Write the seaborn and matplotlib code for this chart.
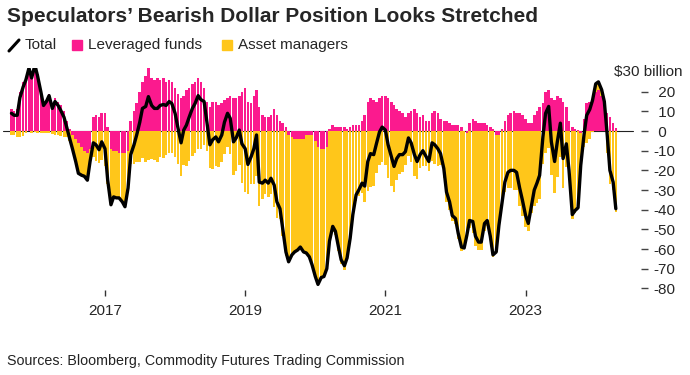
import numpy as np
import pandas as pd
import matplotlib
matplotlib.use("Agg")
import matplotlib.pyplot as plt
import seaborn as sns
from matplotlib.lines import Line2D
from matplotlib.patches import Rectangle

# semi-monthly snapshots of CFTC dollar positioning, $ billion
dates = pd.date_range("2015-09-01", periods=208, freq="SMS")

leveraged = [
    11, 10, 11, 20, 25, 27, 32, 28, 34, 29,
    21, 14, 16, 19, 13, 17, 15, 13, 10, 5,
    1, -2, -4, -6, -8, -10, -11, -9, 7, 8,
    7, 9, 9, 2, -9, -10, -10, -11, -11, -11,
    -10, 5, 10, 14, 20, 25, 28, 32, 27, 26,
    27, 26, 27, 25, 26, 25, 22, 19, 17, 18,
    21, 22, 24, 25, 27, 25, 22, 15, 12, 15,
    15, 13, 14, 16, 17, 18, 17, 17, 18, 20,
    22, 15, 14, 18, 21, 12, 8, 7, 7, 8,
    11, 8, 5, 4, 2, -2, -3, -4, -4, -4,
    -4, -2, -2, -2, -5, -8, -9, -9, -8, 1,
    3, 2, 2, 2, 2, 1, 2, 3, 3, 3,
    5, 8, 15, 17, 16, 15, 17, 18, 18, 17,
    15, 13, 11, 10, 9, 7, 9, 10, 11, 9,
    7, 8, 5, 5, 9, 10, 9, 6, 5, 5,
    4, 3, 3, 3, 2, 0, -1, 4, 6, 5,
    4, 4, 4, 3, 2, 1, -2, -2, 1, 5,
    8, 9, 10, 9, 9, 8, 6, 4, 4, 8,
    10, 12, 14, 20, 21, 17, 16, 18, 17, 15,
    12, 5, 2, 1, 0.5, -1, 6, 14, 15, 16,
    20, 21, 18, 14, 9, 7, 4, 1.5,
]

asset_mgrs = [
    -2, -2, -3, -3, -2.5, -1, 0, -1, -0.5, -1,
    -1, -1, -1, -1, -1.5, -2, -2, -2.5, -3, -3,
    -5, -7, -11.5, -15.5, -14.5, -13, -14, -6.5, -13, -15,
    -16.5, -14.5, -18, -27, -28.5, -23.5, -24, -23, -25, -27.5,
    -19, -17, -17, -16, -15.5, -13.5, -15.5, -14.5, -14, -14.5,
    -15.5, -13, -13.5, -12, -11, -11, -13, -17, -23, -17.5,
    -18, -15, -12.5, -11, -9, -9, -7, -10, -19, -19.5,
    -18, -18.5, -16, -11.5, -8, -11.5, -22.5, -20.5, -17.5, -26.5,
    -31, -32, -27, -27, -23, -38, -34.5, -32, -33.5, -32,
    -38.5, -44, -44.5, -53.5, -63.5, -64.5, -60, -57.5, -56.5, -55,
    -57.5, -60, -62, -66, -69, -70, -65.5, -65, -62, -57,
    -51.5, -53, -61, -67.5, -70.5, -65.5, -56.5, -45.5, -35.5, -33,
    -31.5, -36, -30.5, -28.5, -28, -21.5, -17.5, -16, -17.5, -24,
    -28, -31, -25, -22, -21, -17.5, -12.5, -16, -23, -24.5,
    -19, -18, -18, -20.5, -15, -17, -18, -17.5, -24, -36,
    -40, -46, -47.5, -55, -61, -59.5, -52, -49.5, -52, -58.5,
    -60.5, -60.5, -51, -48.5, -55.5, -64, -59.5, -46, -37, -31,
    -29, -29, -30, -30, -38, -43, -49, -51, -41.5, -38,
    -36.5, -34.5, -17, -11, -8.5, -22.5, -31.5, -23.5, -13, -29,
    -18.5, -25, -44.5, -41.5, -39.5, -16.5, -8, -6, -4, -0.5,
    4, 4, 3, 1, -11, -27, -30, -41,
]

year_ticks = [2017, 2019, 2021, 2023]
y_ticks = list(range(-80, 30, 10))

PINK = "#fb1a8e"
YELLOW = "#ffc61a"

W, H = 690, 375


def fx(px):
    return px / W


def fy(py):
    return 1 - py / H


sns.set_theme(style="white")
plt.rcParams["font.family"] = ["Liberation Sans", "DejaVu Sans"]
plt.rcParams["axes.unicode_minus"] = False

df = pd.DataFrame({"date": dates, "lev": leveraged, "am": asset_mgrs})
days = np.where(df["date"].dt.is_leap_year, 366, 365)
df["x"] = df["date"].dt.year + (df["date"].dt.dayofyear - 1) / days
df["total"] = df["lev"] + df["am"]
# yellow drawn underneath: stacked extent when both sides share a sign
same = np.sign(df["lev"]) == np.sign(df["am"])
df["yellow"] = np.where(same, df["total"], df["am"])

fig = plt.figure(figsize=(W / 100, H / 100), dpi=100)
ax = fig.add_axes([fx(3), fy(290.3), fx(638), 222.2 / H])

ax.axhline(0, xmin=0, xmax=630 / 638, color="#222222", lw=0.8, zorder=0.5)
sns.barplot(data=df, x="x", y="yellow", native_scale=True, orient="x",
            color=YELLOW, saturation=1, width=0.95, linewidth=0,
            errorbar=None, ax=ax, zorder=1)
sns.barplot(data=df, x="x", y="lev", native_scale=True, orient="x",
            color=PINK, saturation=1, width=0.95, linewidth=0,
            errorbar=None, ax=ax, zorder=2)
sns.lineplot(data=df, x="x", y="total", color="black", lw=2.4,
             estimator=None, ax=ax, zorder=3)

ax.set_xlim(2015.545, 2024.646)
ax.set_ylim(-81, 32)
ax.set_xticks(year_ticks)
ax.set_xticklabels([str(y) for y in year_ticks])
ax.yaxis.tick_right()
ax.set_yticks(y_ticks)
ax.set_yticklabels([str(v) if v < 0 else " " + str(v) for v in y_ticks])
ax.set_xlabel("")
ax.set_ylabel("")
for s in ax.spines.values():
    s.set_visible(False)
ax.tick_params(axis="x", length=4, width=1, color="#333333", pad=6,
               labelsize=11, bottom=True)
ax.tick_params(axis="y", length=5, width=1, color="#444444", pad=4,
               labelsize=11, right=True, left=False)

fig.text(fx(682), fy(72), r"\$30 billion", ha="right", va="center", fontsize=11)

# title + legend row
fig.text(fx(7), fy(17), "Speculators’ Bearish Dollar Position Looks Stretched",
         fontsize=15, fontweight="bold", va="center")
fig.add_artist(Line2D([fx(9), fx(19)], [fy(51), fy(40)], color="black", lw=2.2,
                      transform=fig.transFigure))
fig.text(fx(25), fy(45), "Total", fontsize=11, va="center")
fig.add_artist(Rectangle((fx(72), fy(50)), 10 / W, 10 / H, color=PINK,
                         transform=fig.transFigure))
fig.text(fx(88), fy(45), "Leveraged funds", fontsize=11, va="center")
fig.add_artist(Rectangle((fx(222), fy(50)), 10 / W, 10 / H, color=YELLOW,
                         transform=fig.transFigure))
fig.text(fx(238), fy(45), "Asset managers", fontsize=11, va="center")

fig.text(fx(7), fy(361), "Sources: Bloomberg, Commodity Futures Trading Commission",
         fontsize=10.3, color="#222222", va="center")

fig.savefig("out.png", dpi=100)
